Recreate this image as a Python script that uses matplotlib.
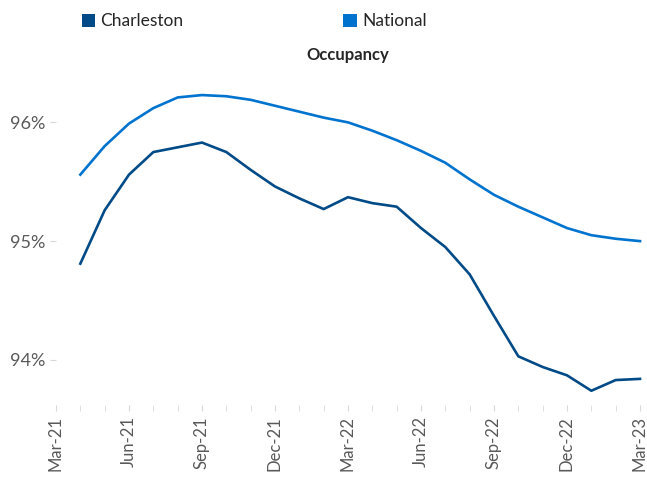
import matplotlib.pyplot as plt
from matplotlib.patches import Patch
from matplotlib.ticker import FixedLocator, FuncFormatter

plt.rcParams['font.family'] = ['Lato', 'DejaVu Sans']

# monthly data, Apr-21 .. Mar-23
months = ['Apr-21', 'May-21', 'Jun-21', 'Jul-21', 'Aug-21', 'Sep-21',
          'Oct-21', 'Nov-21', 'Dec-21', 'Jan-22', 'Feb-22', 'Mar-22',
          'Apr-22', 'May-22', 'Jun-22', 'Jul-22', 'Aug-22', 'Sep-22',
          'Oct-22', 'Nov-22', 'Dec-22', 'Jan-23', 'Feb-23', 'Mar-23']
charleston = [94.81, 95.26, 95.56, 95.75, 95.79, 95.83,
              95.75, 95.60, 95.46, 95.36, 95.27, 95.37,
              95.32, 95.29, 95.11, 94.95, 94.72, 94.37,
              94.03, 93.94, 93.87, 93.74, 93.83, 93.84]
national = [95.56, 95.80, 95.99, 96.12, 96.21, 96.23,
            96.22, 96.19, 96.14, 96.09, 96.04, 96.00,
            95.93, 95.85, 95.76, 95.66, 95.52, 95.39,
            95.29, 95.20, 95.11, 95.05, 95.02, 95.00]
tick_labels = ['Mar-21', 'Jun-21', 'Sep-21', 'Dec-21', 'Mar-22',
               'Jun-22', 'Sep-22', 'Dec-22', 'Mar-23']

c_chs = '#004b87'
c_nat = '#0073cf'
grey = '#595959'

fig = plt.figure(figsize=(6.47, 4.8), dpi=100)
ax = fig.add_axes([56 / 647, 0.15625, 584 / 647, 0.7125])

x = list(range(len(months)))
ax.plot(x, charleston, color=c_chs, lw=1.9, clip_on=False)
ax.plot(x, national, color=c_nat, lw=1.9, clip_on=False)

ax.set_xlim(-1, 23)
ax.set_ylim(93.62, 96.5)

# major ticks every quarter (Mar-21 is index -1), minor every month
ax.xaxis.set_major_locator(FixedLocator(range(-1, 24, 3)))
ax.xaxis.set_minor_locator(FixedLocator(range(-1, 24)))
ax.set_xticklabels(tick_labels, rotation=90, fontsize=12, color=grey)
ax.set_yticks([94, 95, 96])
ax.yaxis.set_major_formatter(FuncFormatter(lambda v, p: '%d%%' % v))
ax.tick_params(axis='y', labelsize=13, colors=grey, length=4,
               color='#d9d9d9', pad=4)
ax.tick_params(axis='x', which='both', length=4, color='#d9d9d9', pad=4)

for s in ax.spines.values():
    s.set_visible(False)

ax.set_title('Occupancy', fontsize=12, fontweight='bold',
             color='#262626', pad=0)

handles = [Patch(facecolor=c_chs), Patch(facecolor=c_nat)]
fig.legend(handles, ['Charleston', 'National'], loc='upper left',
           bbox_to_anchor=(66 / 647, 1.005), ncol=2, frameon=False,
           fontsize=12.5, handlelength=0.78, handleheight=0.78,
           handletextpad=0.3, columnspacing=9.2, labelcolor='#262626')

fig.savefig('out.png', dpi=100)
